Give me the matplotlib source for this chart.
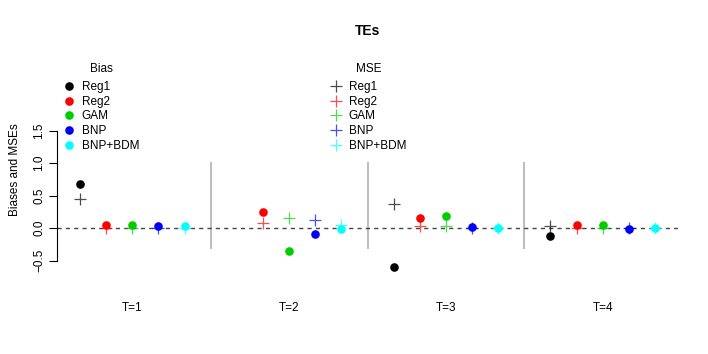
import numpy as np
import matplotlib
matplotlib.use("Agg")
import matplotlib.pyplot as plt
from matplotlib.legend import Legend

plt.rcParams['font.family'] = ['Liberation Sans', 'DejaVu Sans']

# data
methods = ["Reg1", "Reg2", "GAM", "BNP", "BNP+BDM"]
colors = ["#000000", "#FF0000", "#00CD00", "#0000FF", "#00FFFF"]
times = ["T=1", "T=2", "T=3", "T=4"]
# rows: methods, cols: T=1..4 (Reg1 at T=2 lies outside the plotted range)
bias = np.array([
    [0.685, 2.90, -0.597, -0.115],
    [0.054, 0.250, 0.160, 0.045],
    [0.050, -0.355, 0.183, 0.045],
    [0.040, -0.085, 0.018, -0.008],
    [0.040, -0.012, 0.010, 0.000],
])
mse = np.array([
    [0.454, 3.40, 0.372, 0.030],
    [0.010, 0.080, 0.035, 0.010],
    [0.010, 0.160, 0.035, 0.010],
    [0.010, 0.120, 0.005, 0.005],
    [0.010, 0.050, 0.010, 0.005],
])

fs = 8.5
fig = plt.figure(figsize=(7.08, 3.54), dpi=100)
ax = fig.add_axes([57 / 708, 1 - 275 / 354, (678 - 57) / 708, (275 - 64.4) / 354])

n_m = len(methods)
for t in range(len(times)):
    xs = t * (n_m + 1) + 1 + np.arange(n_m)
    for m in range(n_m):
        ax.plot(xs[m], bias[m, t], 'o', color=colors[m], ms=6.2, mec='none', zorder=3)
        ax.plot(xs[m], mse[m, t], '+', color=colors[m], ms=9, mew=0.9, alpha=0.7, zorder=4)
    ax.text(xs[2], -0.155, times[t], transform=ax.get_xaxis_transform(),
            ha='center', va='center', fontsize=fs)
    if t > 0:
        ax.plot([xs[0] - 1, xs[0] - 1], [-0.3, 1.0], color='#BEBEBE', lw=1.5, zorder=1)

ax.axhline(0, color='#444444', lw=1, ls=(0, (3, 3)), zorder=2)

ax.set_xlim(0.12, 23.88)
ax.set_ylim(-0.72, 2.52)
ax.set_xticks([])
ax.set_yticks([-0.5, 0, 0.5, 1.0, 1.5])
ax.set_yticklabels(["\u22120.5", "0.0", "0.5", "1.0", "1.5"], rotation=90, va='center', fontsize=fs)
ax.tick_params(axis='y', length=6, width=0.8, pad=2.5)
for s in ['top', 'right', 'bottom']:
    ax.spines[s].set_visible(False)
ax.spines['left'].set_bounds(-0.5, 1.5)
ax.spines['left'].set_linewidth(0.8)
ax.set_ylabel("Biases and MSEs", fontsize=fs, labelpad=9)
ax.set_title("TEs", fontsize=10, fontweight='bold', y=1.0, pad=21)

# legends
h_bias = [plt.Line2D([], [], ls='none', marker='o', color=c, ms=6.2, mec='none') for c in colors]
h_mse = [plt.Line2D([], [], ls='none', marker='+', color=c, ms=9, mew=0.9, alpha=0.7) for c in colors]
for handles, ttl, x0 in [(h_bias, "Bias", 64), (h_mse, "MSE", 331)]:
    leg = Legend(ax, handles, methods, title=ttl, loc='upper left',
                 bbox_to_anchor=(x0 / 708, 1 - 63 / 354), bbox_transform=fig.transFigure,
                 frameon=False, fontsize=fs, title_fontsize=fs, handlelength=0.8,
                 handletextpad=0.7, labelspacing=0.22, borderpad=0, borderaxespad=0)
    leg._legend_box.sep = 4.5
    ax.add_artist(leg)

fig.savefig("out.png", dpi=100)
